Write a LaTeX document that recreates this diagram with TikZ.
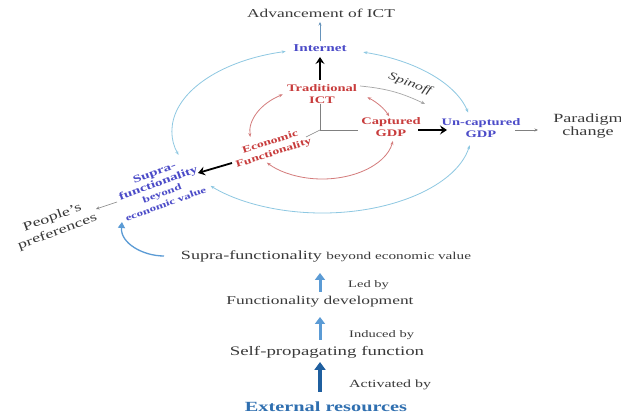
\documentclass[tikz,border=0pt]{standalone}
\usepackage{fontspec}
\setmainfont{Liberation Serif}[FakeStretch=1.45]
\usetikzlibrary{arrows.meta,calc}
\definecolor{txtgray}{HTML}{3A3A3A}
\definecolor{blueT}{HTML}{4B4BC8}
\definecolor{redT}{HTML}{C83C3C}
\definecolor{arcblue}{HTML}{8EC8E2}
\definecolor{arcred}{HTML}{D47C7C}
\definecolor{arrblue}{HTML}{5B9BD5}
\definecolor{arrdark}{HTML}{1F5F9F}
\definecolor{extblue}{HTML}{2F6FB0}
\newcommand{\myfs}[2]{\fontsize{#1}{#2}\selectfont}
\tikzset{
  every node/.style={inner sep=1pt, align=center},
  graytxt/.style={text=txtgray},
  bluebold/.style={text=blueT, font=\bfseries},
  redbold/.style={text=redT, font=\bfseries},
  bluearc/.style={draw=arcblue, line width=0.8pt, {Stealth[length=4pt,width=3pt]}-{Stealth[length=4pt,width=3pt]}},
  redarc/.style={draw=arcred, line width=0.8pt, {Stealth[length=4pt,width=3pt]}-{Stealth[length=4pt,width=3pt]}},
  blackarr/.style={draw=black, line width=1.8pt, -{Stealth[length=7pt,width=9pt,inset=2.5pt]}},
  thinarr/.style={draw=gray, line width=0.6pt, -{Stealth[length=3.5pt,width=3pt]}},
  thinblue/.style={draw=arrblue!70!gray, line width=0.6pt, -{Stealth[length=3.5pt,width=3pt]}},
  fatblue/.style={draw=arrblue, line width=3pt, -{Triangle[length=7pt,width=10pt]}},
  fatdark/.style={draw=arrdark, line width=3.6pt, -{Triangle[length=8pt,width=11pt]}},
  axis/.style={draw=gray, line width=0.6pt}
}
\begin{document}
\begin{tikzpicture}[x=1pt,y=1pt]
\useasboundingbox (0,0) rectangle (621,414);
\fill[white] (0,0) rectangle (621,414);

% text nodes
\node[graytxt, font=\myfs{12}{14}] (adv) at (321,401) {Advancement of ICT};
\node[bluebold, font=\bfseries\myfs{10.5}{12}] (inet) at (320,366) {Internet};
\node[redbold, font=\bfseries\myfs{10}{12}] (trad) at (322,320) {Traditional\\ICT};
\node[graytxt, font=\itshape\myfs{11}{13}, rotate=-20] (spin) at (410,330) {Spinoff};
\node[redbold, font=\bfseries\myfs{10}{12}] (capt) at (391,287) {Captured\\GDP};
\node[redbold, font=\bfseries\myfs{9.5}{11.5}, rotate=18] (econ) at (272,266) {Economic\\Functionality};
\node[bluebold, font=\bfseries\myfs{10}{12}] (uncap) at (481,286) {Un-captured\\GDP};
\node[graytxt, font=\myfs{12.5}{13.5}] (parad) at (588,288) {Paradigm\\change};
\node[bluebold, font=\bfseries\myfs{10.5}{11}, rotate=20] (supra) at (160,226)
  {Supra-\\functionality\\{\myfs{9}{10}beyond}\\{\myfs{9}{10}economic value}};
\node[graytxt, font=\myfs{12.5}{15}, rotate=20] (people) at (55,189) {People's\\preferences};
\node[graytxt] (bsupra) at (326,158) {\myfs{12.5}{14}Supra-functionality \myfs{10.5}{14}beyond economic value};
\node[graytxt, font=\myfs{10}{12}, anchor=west] (ledby) at (347,129) {Led by};
\node[graytxt, font=\myfs{12}{14}] (funcdev) at (320,112) {Functionality development};
\node[graytxt, font=\myfs{10}{12}, anchor=west] (induced) at (348,79) {Induced by};
\node[graytxt, font=\myfs{13}{14}] (selfprop) at (327,62) {Self-propagating function};
\node[graytxt, font=\myfs{11}{12}, anchor=west] (activated) at (348,29) {Activated by};
\node[text=extblue, font=\bfseries\myfs{14}{15}] (ext) at (326,7) {External resources};

% axes
\coordinate (O) at (320,284);
\coordinate (Oup) at (320,310);
\coordinate (Oright) at (358,284);
\coordinate (Odiag) at (306,277);
\draw[axis] (Oup) -- (O) -- (Oright);
\draw[axis] (O) -- (Odiag);

% outer blue ellipse arcs
\coordinate (OB) at (322,283);
\draw[bluearc] ($(OB)+(104:150pt and 82pt)$) arc[start angle=104,end angle=197,x radius=150pt,y radius=82pt];
\draw[bluearc] ($(OB)+(74:150pt and 82pt)$) arc[start angle=74,end angle=13,x radius=150pt,y radius=82pt];
\draw[bluearc] ($(OB)+(-10:150pt and 82pt)$) arc[start angle=-10,end angle=-138,x radius=150pt,y radius=82pt];

% inner red ellipse arcs
\coordinate (OR) at (322,281);
\draw[redarc] ($(OR)+(123:72pt and 46pt)$) arc[start angle=123,end angle=185,x radius=72pt,y radius=46pt];
\draw[redarc] ($(OR)+(51:72pt and 46pt)$) arc[start angle=51,end angle=21,x radius=72pt,y radius=46pt];
\draw[redarc] ($(OR)+(-10:72pt and 46pt)$) arc[start angle=-10,end angle=-140,x radius=72pt,y radius=46pt];

% black arrows
\draw[blackarr] (320,334) -- (320,357);
\draw[blackarr] (418,284) -- (447,284);
\coordinate (econtail) at (232,251);
\coordinate (suprahead) at (198,241);
\draw[blackarr] (econtail) -- (suprahead);

% thin arrows
\draw[thinblue] (inet.north) ++(0,2) -- (320,392);
\draw[thinarr] (515,284) -- (538,284);
\coordinate (pptail) at (117,212);
\coordinate (pphead) at (96,205);
\draw[thinarr] (pptail) -- (pphead);

% spinoff arrow
\coordinate (spinstart) at (360,328);
\coordinate (spinend) at (425,310);
\draw[draw=gray!70, line width=0.7pt, -{Stealth[length=4pt,width=3.5pt]}] (spinstart) to[bend left=10] (spinend);

% bottom curved blue arrow
\coordinate (cstart) at (164,158);
\coordinate (cend) at (122,192);
\draw[draw=arrblue, line width=1.3pt, -{Triangle[length=6pt,width=7pt]}] (cstart) to[out=180,in=-95] (cend);

% bottom vertical arrows
\draw[fatblue] (320,122) -- (320,141);
\draw[fatblue] (320,74) -- (320,97);
\draw[fatdark] (320,22) -- (320,52);
\end{tikzpicture}
\end{document}
